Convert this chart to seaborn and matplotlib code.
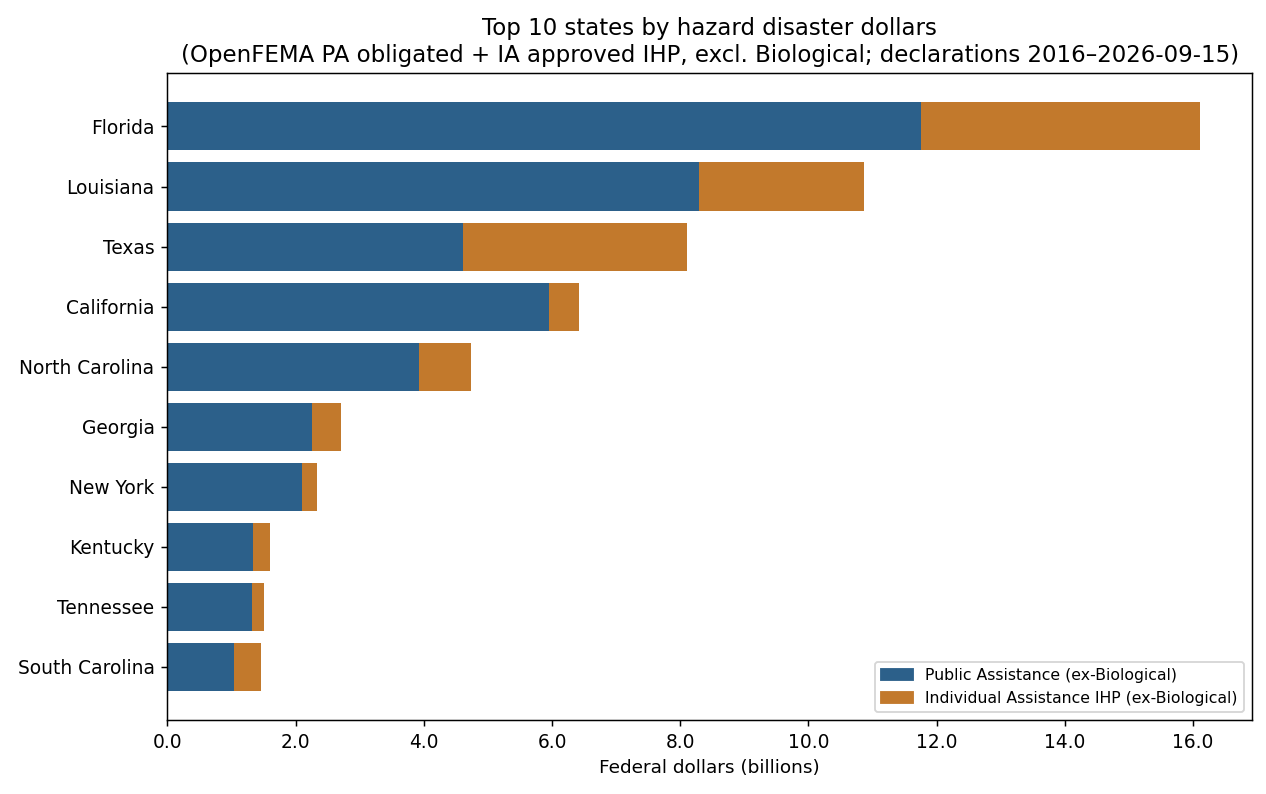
import matplotlib
matplotlib.use("Agg")
import matplotlib.pyplot as plt
import seaborn as sns
import pandas as pd
from matplotlib.patches import Patch
from matplotlib.ticker import FormatStrFormatter

# values in billions of dollars
states = ["Florida", "Louisiana", "Texas", "California", "North Carolina",
          "Georgia", "New York", "Kentucky", "Tennessee", "South Carolina"]
pa_billions = [11.76, 8.30, 4.61, 5.95, 3.93, 2.26, 2.10, 1.34, 1.32, 1.04]
ihp_billions = [4.35, 2.57, 3.49, 0.47, 0.81, 0.45, 0.24, 0.26, 0.19, 0.42]

pa_color = "#2c608a"
ihp_color = "#c2792c"

sns.set_style("ticks", {"axes.edgecolor": "black", "text.color": "black",
                        "xtick.color": "black", "ytick.color": "black",
                        "axes.labelcolor": "black"})
plt.rcParams["font.family"] = ["DejaVu Sans"]

df = pd.DataFrame({"State": states, "PA": pa_billions, "IHP": ihp_billions})
df["Total"] = df["PA"] + df["IHP"]

dpi = 133
fig, ax = plt.subplots(figsize=(1266 / dpi, 794 / dpi), dpi=dpi)
fig.subplots_adjust(left=0.1323, right=0.9887, top=0.908, bottom=0.093)

# stacked bars: total in orange underneath, PA share drawn over it in blue
sns.barplot(data=df, x="Total", y="State", orient="h", color=ihp_color,
            saturation=1, width=0.8, linewidth=0, edgecolor="none", ax=ax)
sns.barplot(data=df, x="PA", y="State", orient="h", color=pa_color,
            saturation=1, width=0.8, linewidth=0, edgecolor="none", ax=ax)

ax.set_title("Top 10 states by hazard disaster dollars\n"
             "(OpenFEMA PA obligated + IA approved IHP, excl. Biological; "
             "declarations 2016\u20132026-09-15)", fontsize=12.4)
ax.set_xlabel("Federal dollars (billions)", fontsize=10)
ax.set_ylabel("")
ax.tick_params(axis="both", labelsize=10.1)
ax.xaxis.set_major_formatter(FormatStrFormatter("%.1f"))
ax.set_xlim(0, df["Total"].max() * 1.05)
# default matplotlib-style margins around bars of height 0.8
ax.set_ylim(len(states) - 1 + 0.4 + 0.49, -0.4 - 0.49)

handles = [Patch(color=pa_color, label="Public Assistance (ex-Biological)"),
           Patch(color=ihp_color, label="Individual Assistance IHP (ex-Biological)")]
ax.legend(handles=handles, loc="lower right", fontsize=8.5)

fig.savefig("out.png", dpi=dpi)
